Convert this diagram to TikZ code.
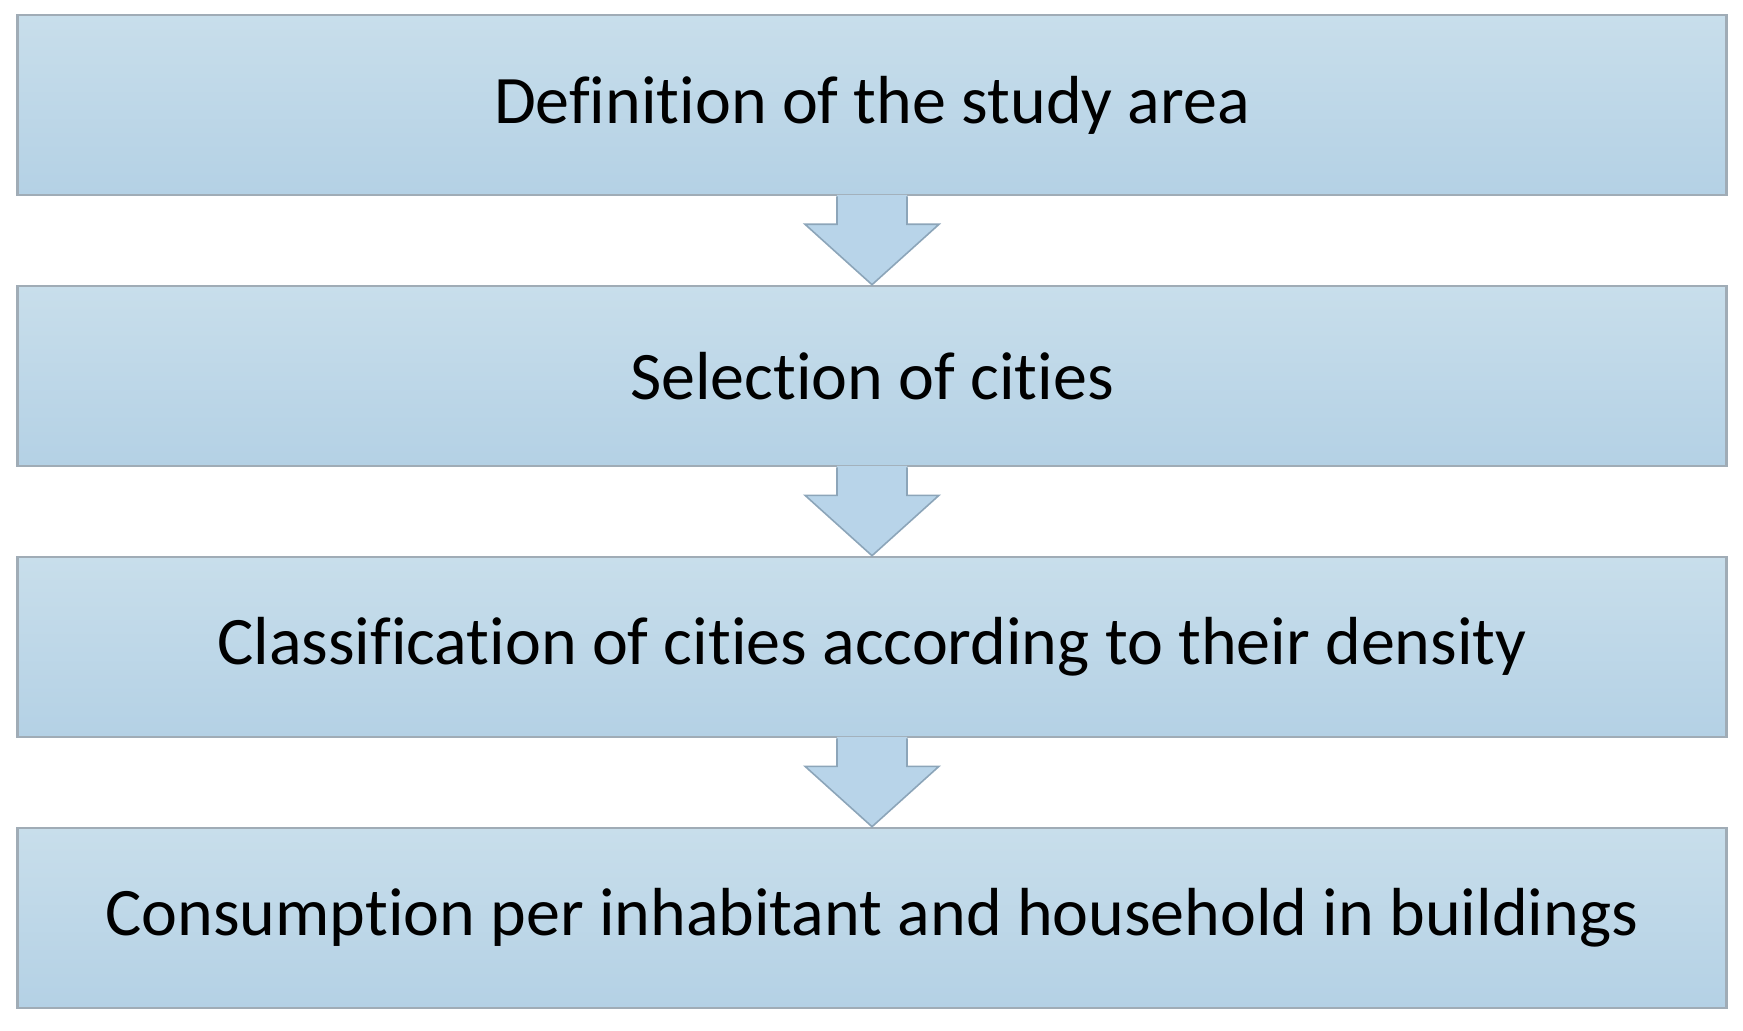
\documentclass[tikz,border=0pt]{standalone}
\usepackage{fontspec}
\setmainfont{Carlito}[Ligatures=NoCommon]
\usepackage{tikz}
\usetikzlibrary{calc}
\usetikzlibrary{positioning}

\definecolor{boxtop}{RGB}{200,222,235}
\definecolor{boxbottom}{RGB}{180,209,229}
\definecolor{boxline}{RGB}{160,172,182}
\definecolor{arrowfill}{RGB}{184,212,233}
\definecolor{arrowline}{RGB}{140,165,185}

\begin{document}
\begin{tikzpicture}[x=0.5pt,y=-0.5pt,
	stepbox/.style={draw=boxline, line width=1.3pt, top color=boxtop, bottom color=boxbottom,
		minimum width=854.5pt, minimum height=90pt, inner sep=0pt,
		font=\fontsize{34}{40}\selectfont, text=black}]
	% Define spacing
	\def\boxpitch{271}
	\def\shaftw{35}
	\def\headw{67}
	
	\useasboundingbox (0,0) rectangle (1743,1031);
	
	%steps
	\node[stepbox] (step1) at (872,105) {Definition of the study area};
	\node[stepbox] (step2) at (872,105+\boxpitch) {Selection of cities};
	\node[stepbox] (step3) at (872,105+2*\boxpitch) {Classification of cities according to their density};
	\node[stepbox] (step4) at (872,105+3*\boxpitch) {Consumption per inhabitant and household in buildings};
	
	% Connect steps
	\foreach \i/\j in {1/2,2/3,3/4} {
		\fill[arrowfill] ($(step\i.south)+(-\shaftw,-1.5)$) -- ($(step\i.south)+(-\shaftw,28)$)
			-- ($(step\i.south)+(-\headw,28)$) -- (step\j.north) -- ($(step\i.south)+(\headw,28)$)
			-- ($(step\i.south)+(\shaftw,28)$) -- ($(step\i.south)+(\shaftw,-1.5)$) -- cycle;
		\draw[arrowline, line width=0.8pt, line join=miter] ($(step\i.south)+(-\shaftw,0)$) -- ($(step\i.south)+(-\shaftw,28)$)
			-- ($(step\i.south)+(-\headw,28)$) -- (step\j.north) -- ($(step\i.south)+(\headw,28)$)
			-- ($(step\i.south)+(\shaftw,28)$) -- ($(step\i.south)+(\shaftw,0)$);
	}
\end{tikzpicture}
\end{document}
